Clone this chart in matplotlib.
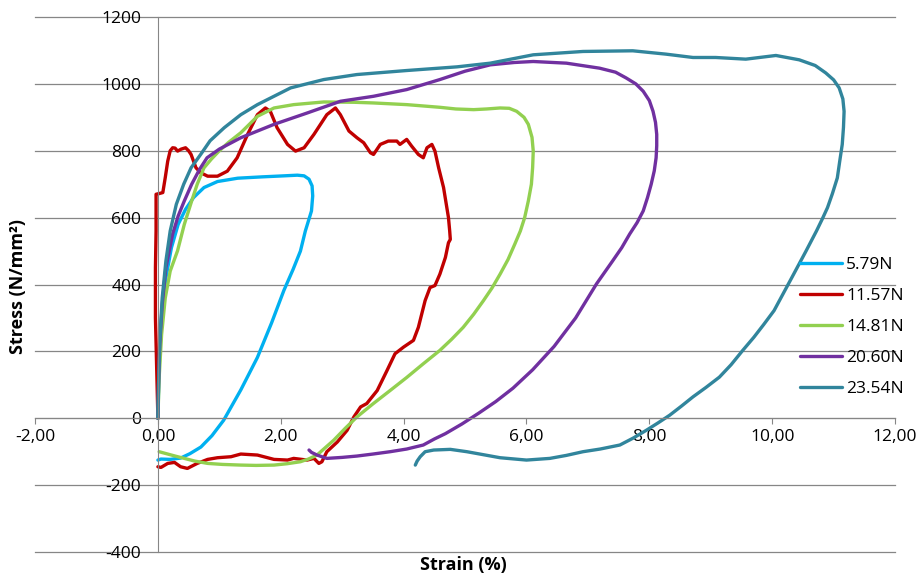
import matplotlib.pyplot as plt

# strain (%) / stress (N/mm2) loops
labels = ["5.79N", "11.57N", "14.81N", "20.60N", "23.54N"]
colors = ["#00B0F0", "#C00000", "#92D050", "#7030A0", "#31859C"]

x_579 = [0, 0.02, 0.06, 0.13, 0.22, 0.33, 0.45, 0.58, 0.75, 0.97, 1.3, 1.7, 2.05, 2.27, 2.38, 2.46,
         2.51, 2.52, 2.50, 2.45, 2.40, 2.32, 2.20, 2.05, 1.85, 1.62, 1.35, 1.07, 0.88, 0.70, 0.52,
         0.37, 0.2, 0.05, 0.0]
y_579 = [0, 150, 300, 420, 510, 580, 625, 660, 690, 708, 718, 722, 725, 727, 725, 715,
         695, 665, 620, 590, 560, 500, 445, 382, 285, 182, 85, -6, -52, -86, -106,
         -119, -123, -122, -125]

x_1157 = [0, -0.02, -0.04, -0.04, -0.03, -0.03, 0.02, 0.08, 0.12, 0.16, 0.20, 0.24, 0.28, 0.32,
          0.38, 0.45, 0.50, 0.54, 0.62, 0.70, 0.81, 0.97, 1.13, 1.29, 1.46, 1.62, 1.75, 1.83,
          1.94, 2.11, 2.24, 2.38, 2.54, 2.75, 2.89, 2.97, 3.11, 3.24, 3.35, 3.46, 3.51, 3.62,
          3.75, 3.89, 3.94, 4.05, 4.13, 4.24, 4.32, 4.38, 4.46, 4.51, 4.57, 4.65, 4.73, 4.75,
          4.76, 4.73, 4.68, 4.59, 4.51, 4.43, 4.35, 4.24, 4.16, 4.00, 3.86, 3.73, 3.57, 3.40,
          3.30, 3.19, 3.08, 2.92, 2.75, 2.67, 2.62, 2.54, 2.43, 2.21, 2.11, 1.89, 1.62, 1.35,
          1.19, 0.97, 0.81, 0.64, 0.48, 0.37, 0.27, 0.16, 0.05, 0.0]
y_1157 = [0, 150, 300, 450, 560, 670, 672, 675, 720, 769, 800, 809, 808, 799,
          805, 809, 800, 789, 749, 734, 724, 724, 739, 779, 849, 908, 928, 918,
          869, 819, 799, 809, 849, 908, 928, 908, 859, 839, 824, 794, 789, 819,
          829, 829, 819, 834, 814, 789, 779, 809, 819, 799, 749, 690, 600, 560,
          535, 525, 481, 431, 397, 391, 352, 272, 233, 213, 193, 143, 83, 44,
          34, 4, -36, -71, -100, -130, -135, -120, -125, -120, -125, -123, -110, -107,
          -115, -118, -123, -135, -150, -145, -132, -135, -147, -145]

x_1481 = [0, 0.02, 0.06, 0.12, 0.2, 0.32, 0.43, 0.55, 0.64, 0.75, 0.87, 1.0, 1.15, 1.35, 1.62,
          1.89, 2.21, 2.70, 3.2, 3.51, 4.05, 4.59, 4.85, 5.14, 5.35, 5.57, 5.72, 5.84, 5.96,
          6.03, 6.09, 6.11, 6.10, 6.08, 6.03, 5.97, 5.90, 5.81, 5.70, 5.57, 5.44, 5.30, 5.14,
          4.97, 4.78, 4.59, 4.32, 4.05, 3.78, 3.50, 3.24, 3.05, 2.86, 2.70, 2.59, 2.45,
          2.32, 2.10, 1.89, 1.60, 1.35, 1.05, 0.81, 0.60, 0.43, 0.28, 0.16, 0.02]
y_1481 = [0, 120, 250, 360, 440, 501, 580, 650, 700, 749, 775, 800, 825, 854, 903,
          928, 938, 946, 945, 943, 938, 930, 925, 923, 925, 928, 927, 918, 900,
          879, 840, 799, 750, 700, 650, 600, 560, 521, 475, 431, 390, 352, 311,
          272, 236, 203, 163, 122, 83, 43, 4, -30, -66, -92, -110, -122,
          -130, -136, -140, -141, -140, -138, -135, -128, -120, -113, -107, -100]

x_2060 = [0, 0.01, 0.03, 0.07, 0.13, 0.24, 0.33, 0.43, 0.55, 0.68, 0.8, 1.0, 1.35, 1.89, 2.43,
          2.97, 3.51, 4.05, 4.59, 5.0, 5.41, 5.8, 6.11, 6.65, 7.19, 7.45, 7.62, 7.78, 7.90,
          8.00, 8.06, 8.10, 8.12, 8.12, 8.11, 8.08, 8.03, 7.97, 7.90, 7.80, 7.68, 7.55, 7.40,
          7.14, 6.80, 6.45, 6.10, 5.78, 5.50, 5.22, 4.95, 4.68, 4.50, 4.32, 4.05, 3.78, 3.50,
          3.24, 3.00, 2.75, 2.59, 2.50, 2.46]
y_2060 = [0, 100, 220, 340, 450, 551, 605, 650, 700, 745, 779, 805, 839, 879, 913,
          948, 963, 983, 1013, 1038, 1057, 1064, 1067, 1062, 1047, 1035, 1018, 1000, 978,
          950, 918, 885, 849, 815, 779, 740, 700, 660, 620, 585, 551, 510, 470,
          402, 300, 215, 145, 90, 50, 15, -17, -46, -62, -80, -92, -100, -107,
          -113, -117, -120, -110, -102, -95]

x_2354 = [0, 0.01, 0.03, 0.07, 0.13, 0.2, 0.3, 0.42, 0.54, 0.7, 0.85, 1.08, 1.35, 1.62, 2.16,
          2.70, 3.24, 4.05, 4.87, 5.41, 6.11, 6.92, 7.73, 8.27, 8.71, 9.08, 9.57, 10.06, 10.44,
          10.70, 10.87, 11.00, 11.09, 11.15, 11.17, 11.16, 11.14, 11.10, 11.06, 10.98, 10.90,
          10.81, 10.72, 10.55, 10.32, 10.03, 9.86, 9.70, 9.52, 9.33, 9.14, 8.92, 8.71, 8.52,
          8.33, 8.14, 7.95, 7.74, 7.52, 7.20, 6.92, 6.65, 6.38, 6.00, 5.57, 5.03, 4.76, 4.49,
          4.35, 4.27, 4.22, 4.19]
y_2354 = [0, 100, 230, 360, 470, 560, 640, 700, 749, 790, 830, 869, 908, 938, 988,
          1013, 1028, 1040, 1051, 1062, 1087, 1097, 1099, 1089, 1079, 1079, 1074, 1085, 1072,
          1055, 1033, 1012, 988, 955, 918, 870, 819, 770, 719, 672, 630,
          594, 560, 500, 421, 322, 280, 242, 203, 160, 123, 92, 64, 36,
          9, -14, -36, -59, -80, -92, -100, -111, -120, -125, -118, -100, -93, -95,
          -100, -115, -128, -140]

xs = [x_579, x_1157, x_1481, x_2060, x_2354]
ys = [y_579, y_1157, y_1481, y_2060, y_2354]

x_ticks = [-2, 0, 2, 4, 6, 8, 10, 12]
x_ticklabels = ["-2,00", "0,00", "2,00", "4,00", "6,00", "8,00", "10,00", "12,00"]
y_ticks = [-400, -200, 0, 200, 400, 600, 800, 1000, 1200]

plt.rcParams['font.family'] = ['Open Sans', 'DejaVu Sans']
fig = plt.figure(figsize=(9.22, 5.79), dpi=100)
ax = fig.add_axes([0.038, 0.0466, 0.9328, 0.924])

for x, y, c, lab in zip(xs, ys, colors, labels):
    ax.plot(x, y, color=c, lw=2.4, label=lab, solid_joinstyle="round", solid_capstyle="round")

ax.set_xlim(-2, 12)
ax.set_ylim(-400, 1200)
ax.set_xticks(x_ticks)
ax.set_xticklabels(x_ticklabels)
ax.set_yticks(y_ticks)
ax.set_yticklabels([str(v) for v in y_ticks])

grey = "#868686"
ax.spines["left"].set_position(("data", 0))
ax.spines["bottom"].set_position(("data", 0))
ax.spines["right"].set_visible(False)
ax.spines["top"].set_visible(False)
ax.spines["left"].set_color(grey)
ax.spines["bottom"].set_color(grey)
ax.grid(axis="y", color=grey, lw=0.9)
for gl in ax.get_ygridlines():
    gl.set_clip_on(False)
ax.set_axisbelow(True)
ax.tick_params(axis="x", length=4, color=grey, pad=4, labelsize=12.5)
ax.tick_params(axis="y", length=0, pad=12, labelsize=12.5)

fig.text(0.0195, 0.505, "Stress (N/mm²)", rotation=90, ha="center", va="center",
         fontsize=13, fontweight="bold")
fig.text(0.503, 0.024, "Strain (%)", ha="center", va="center", fontsize=13, fontweight="bold")

fig.legend(loc="center left", bbox_to_anchor=(0.851, 0.435), frameon=False, fontsize=12.5,
           handlelength=2.4, handletextpad=0.25, labelspacing=0.85)

fig.savefig("out.png", dpi=100)
